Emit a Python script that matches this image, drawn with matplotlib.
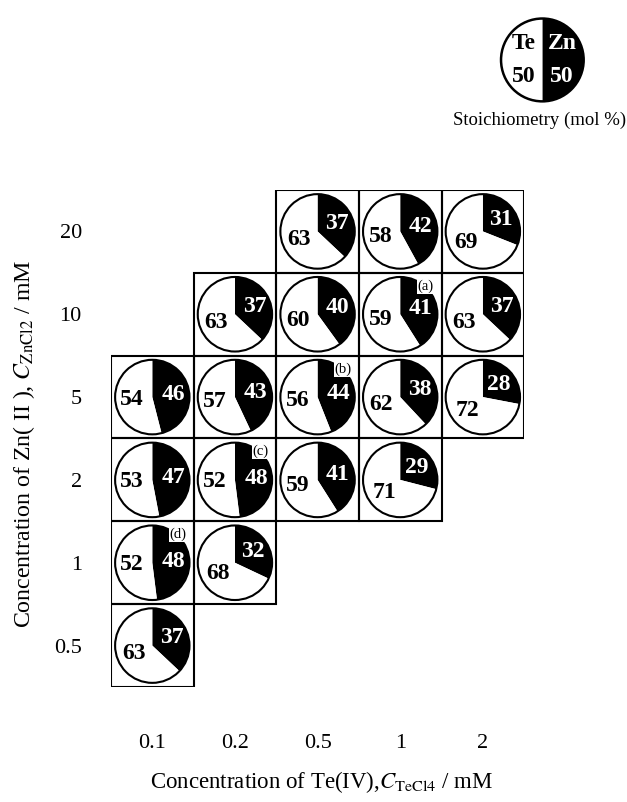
import numpy as np
import matplotlib
matplotlib.use('Agg')
import matplotlib.pyplot as plt
from matplotlib.patches import Wedge, Rectangle, Circle

plt.rcParams['font.family'] = ['Liberation Serif', 'DejaVu Serif']
plt.rcParams['mathtext.fontset'] = 'stix'

te_conc = ['0.1', '0.2', '0.5', '1', '2']
zn_conc = ['0.5', '1', '2', '5', '10', '20']

# cell positions (column = Te conc index, row = Zn conc index) and Zn mol %
col_idx = [2, 3, 4, 1, 2, 3, 4, 0, 1, 2, 3, 4, 0, 1, 2, 3, 0, 1, 0]
row_idx = [5, 5, 5, 4, 4, 4, 4, 3, 3, 3, 3, 3, 2, 2, 2, 2, 1, 1, 0]
zn_pct = [37, 42, 31, 37, 40, 41, 37, 46, 43, 44, 38, 28, 47, 48, 41, 29, 48, 32, 37]
tags = {(3, 4): '(a)', (2, 3): '(b)', (1, 2): '(c)', (0, 1): '(d)'}

R = 0.45

fig = plt.figure(figsize=(6.27, 8.02), dpi=100)
ax = fig.add_axes([0.177, 0.1434, 0.659, 0.6197])
ax.set_xlim(-0.5, 4.5)
ax.set_ylim(-0.5, 5.5)


def draw_pie(ax, x, y, zn, r, lw=1.5):
    ang = zn / 100 * 360
    # Zn (black) clockwise from 12 o'clock, Te (white) the rest
    ax.add_patch(Wedge((x, y), r, 90 - ang, 90, facecolor='black', edgecolor='none', clip_on=False))
    ax.add_patch(Wedge((x, y), r, 90, 450 - ang, facecolor='white', edgecolor='none', clip_on=False))
    ax.add_patch(Circle((x, y), r, facecolor='none', edgecolor='black', lw=lw, clip_on=False))


for c, rw, zn in zip(col_idx, row_idx, zn_pct):
    ax.add_patch(Rectangle((c - 0.5, rw - 0.5), 1, 1, fill=False, edgecolor='black', lw=1.5))
    draw_pie(ax, c, rw, zn, R)
    te = 100 - zn
    a_zn = np.deg2rad(90 - zn / 100 * 180)
    a_te = np.deg2rad(90 - zn / 100 * 360 - te / 100 * 180)
    ax.text(c + 0.57 * R * np.cos(a_zn), rw + 0.55 * R * np.sin(a_zn), str(zn),
            color='white', fontsize=17, fontweight='bold', ha='center', va='center')
    ax.text(c + 0.55 * R * np.cos(a_te), rw + 0.55 * R * np.sin(a_te), str(te),
            color='black', fontsize=17, fontweight='bold', ha='center', va='center')
    if (c, rw) in tags:
        ax.text(c + 0.31, rw + 0.34, tags[(c, rw)], fontsize=10.5, ha='center', va='center',
                bbox=dict(facecolor='white', edgecolor='none', pad=0.6))

# legend circle
lx, ly, lr = 4.72, 7.07, 0.5
draw_pie(ax, lx, ly, 50, lr, lw=1.8)
ax.text(lx - 0.22, ly + 0.2, 'Te', fontsize=17, fontweight='bold', ha='center', va='center')
ax.text(lx + 0.24, ly + 0.2, 'Zn', fontsize=17, fontweight='bold', ha='center', va='center', color='white')
ax.text(lx - 0.22, ly - 0.2, '50', fontsize=17, fontweight='bold', ha='center', va='center')
ax.text(lx + 0.24, ly - 0.2, '50', fontsize=17, fontweight='bold', ha='center', va='center', color='white')
ax.text(lx - 0.03, ly - 0.73, 'Stoichiometry (mol %)', fontsize=13.5, ha='center', va='center')

ax.set_xticks(range(len(te_conc)))
ax.set_xticklabels(te_conc, fontsize=16)
ax.set_yticks(range(len(zn_conc)))
ax.set_yticklabels(zn_conc, fontsize=16)
ax.tick_params(length=0)
ax.tick_params(axis='x', pad=34)
ax.tick_params(axis='y', pad=21)
for s in ax.spines.values():
    s.set_visible(False)

ax.set_xlabel(r'Concentration of Te(IV),$C_{\mathrm{TeCl4}}$ / mM', fontsize=16.5)
ax.xaxis.set_label_coords(0.51, -0.165)
ax.set_ylabel(r'Concentration of Zn( II ), $C_{\mathrm{ZnCl2}}$ / mM', fontsize=17.2)
ax.yaxis.set_label_coords(-0.178, 0.49)

fig.savefig('out.png', dpi=100)
